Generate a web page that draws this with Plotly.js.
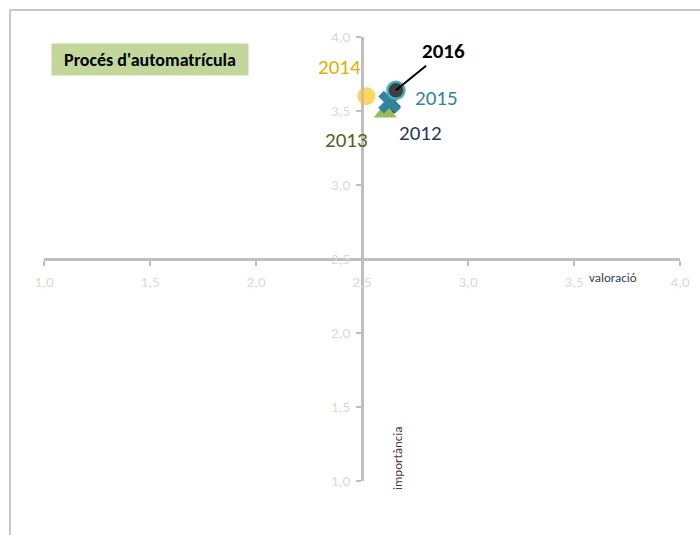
<!DOCTYPE html>
<html>
<head>
<meta charset="utf-8">
<script src="https://cdn.plot.ly/plotly-3.0.1.min.js"></script>
<style>
  html, body { margin: 0; padding: 0; background: #ffffff; }
  #wrap { position: relative; width: 700px; height: 535px; overflow: hidden; }
  #chart { position: absolute; left: 0; top: 0; width: 700px; height: 535px; }
  #frame { position: absolute; left: 9px; top: 9px; width: 720px; height: 560px;
           border-left: 2px solid #c8c8c8; border-top: 2px solid #c8c8c8; pointer-events: none; }
</style>
</head>
<body>
<div id="wrap">
  <div id="chart"></div>
  <div id="frame"></div>
</div>
<script>
// ---- data ----
const years       = ["2012", "2013", "2014", "2015", "2016"];
const valoracio   = [2.64, 2.61, 2.52, 2.63, 2.66];   // x
const importancia = [3.53, 3.49, 3.60, 3.56, 3.64];   // y
const chartTitle  = "Procés d'automatrícula";
const xTitle      = "valoració";
const yTitle      = "importància";
const tickVals    = [1.0, 1.5, 2.0, 2.5, 3.0, 3.5, 4.0];

// ---- styles ----
const styles = {
  "2012": {symbol: "diamond", size: 14, color: "#1F3864", line: {width: 0}, label: "#1F3864", bold: false, dx: 29, dy: -26},
  "2013": {symbol: "triangle-up", size: 20, color: "#9BBB59", line: {width: 0}, label: "#4F6228", bold: false, dx: -39, dy: -28},
  "2014": {symbol: "circle", size: 18, color: "#FFD65C", line: {width: 0}, label: "#E6AE00", bold: false, dx: -27, dy: 29},
  "2015": {symbol: "x", size: 20, color: "#31849B", line: {width: 0}, label: "#31849B", bold: false, dx: 47, dy: 4},
  "2016": {symbol: "circle", size: 17, color: "#404040", line: {width: 2.5, color: "#4BACC6"}, label: "#000000", bold: true, dx: 48, dy: 39}
};

const font = "Carlito, Calibri, 'Open Sans', 'Noto Sans', sans-serif";

const traces = years.map((yr, i) => {
  const s = styles[yr];
  return {
    type: "scatter", mode: "markers", name: yr,
    x: [valoracio[i]], y: [importancia[i]],
    marker: {symbol: s.symbol, size: s.size, color: s.color, line: s.line},
    hoverinfo: "name+x+y"
  };
});

const annotations = years.map((yr, i) => {
  const s = styles[yr];
  const a = {
    xref: "x", yref: "y", x: valoracio[i], y: importancia[i],
    text: s.bold ? "<b>" + yr + "</b>" : yr,
    font: {family: font, size: s.bold ? 21 : 21, color: s.label}
  };
  if (yr === "2016") {
    Object.assign(a, {showarrow: true, arrowhead: 0, arrowwidth: 2, arrowcolor: "#000000",
      ax: s.dx, ay: -s.dy, standoff: 0, startstandoff: 0, xanchor: "center", yanchor: "middle"});
  } else {
    Object.assign(a, {showarrow: false, xshift: s.dx, yshift: s.dy});
  }
  return a;
});

annotations.push({
  xref: "paper", yref: "paper", x: 0.1667, y: 0.950, xanchor: "center", yanchor: "middle",
  text: "<b>" + chartTitle + "</b>", showarrow: false,
  bgcolor: "#C4D79B", width: 196, height: 31, borderpad: 0,
  font: {family: font, size: 18, color: "#000000"}
});
annotations.push({
  xref: "x", yref: "y", x: 3.685, y: 2.5, yshift: -18, text: xTitle, showarrow: false,
  font: {family: font, size: 13, color: "#404040"}
});
annotations.push({
  xref: "x", yref: "y", x: 2.665, y: 1.155, text: yTitle, showarrow: false, textangle: -90,
  font: {family: font, size: 13, color: "#404040"}
});

const axisCommon = {
  range: [1, 4], tickvals: tickVals, tickformat: ".1f",
  showgrid: false, zeroline: false,
  showline: true, linecolor: "#BFBFBF", linewidth: 2.5,
  ticks: "outside", ticklen: 5, tickwidth: 2, tickcolor: "#BFBFBF",
  tickfont: {family: font, size: 15, color: "#D9D9D9"},
  anchor: "free", position: 0.5, fixedrange: true
};

const layout = {
  width: 700, height: 535,
  margin: {l: 44, r: 20, t: 37, b: 54},
  paper_bgcolor: "rgba(0,0,0,0)", plot_bgcolor: "rgba(0,0,0,0)",
  separators: ",.",
  showlegend: false,
  xaxis: Object.assign({}, axisCommon, {domain: [0, 1], ticklabelstandoff: 3}),
  yaxis: Object.assign({}, axisCommon, {domain: [0, 1], ticklabelstandoff: 3}),
  annotations: annotations
};

Plotly.newPlot("chart", traces, layout, {displayModeBar: false, staticPlot: true});
</script>
</body>
</html>
